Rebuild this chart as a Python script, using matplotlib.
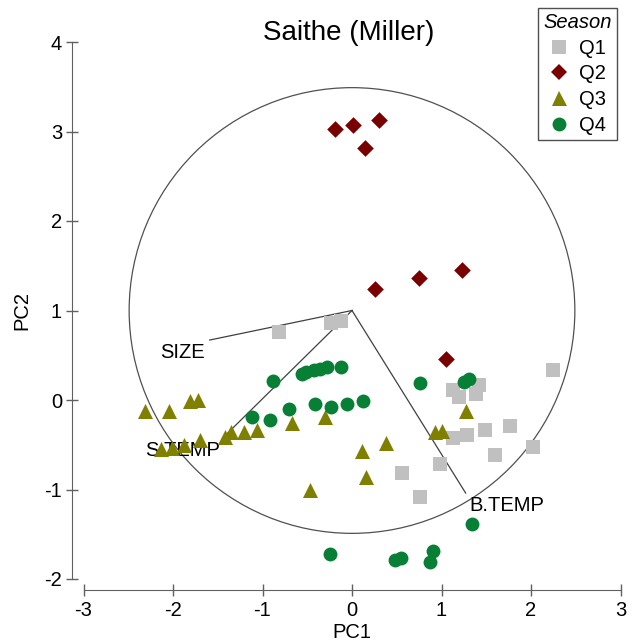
import numpy as np
import matplotlib
matplotlib.use('Agg')
import matplotlib.pyplot as plt
from matplotlib.patches import Circle
from matplotlib.lines import Line2D

plt.rcParams['font.family'] = ['Liberation Sans', 'DejaVu Sans']
plt.rcParams['axes.unicode_minus'] = False

# PCA scores by season
q1_x = [-0.82, -0.24, -0.12, 2.25, 1.42, 1.13, 1.19, 1.39, 1.77, 1.49, 1.28, 1.13, 2.02, 1.60, 0.98, 0.56, 0.76]
q1_y = [0.76, 0.86, 0.88, 0.34, 0.17, 0.11, 0.03, 0.07, -0.29, -0.34, -0.39, -0.42, -0.52, -0.61, -0.72, -0.82, -1.08]

q2_x = [-0.19, 0.01, 0.30, 0.15, 0.26, 0.75, 1.23, 1.05]
q2_y = [3.03, 3.07, 3.13, 2.82, 1.24, 1.36, 1.45, 0.46]

q3_x = [-2.31, -2.05, -1.81, -1.72, -2.13, -2.01, -1.88, -1.70, -1.42, -1.35, -1.21, -1.06,
        -0.67, -0.30, 0.11, 0.38, 0.16, -0.47, 1.27, 0.93, 1.00]
q3_y = [-0.12, -0.12, -0.01, 0.00, -0.55, -0.54, -0.50, -0.45, -0.41, -0.36, -0.36, -0.34,
        -0.26, -0.19, -0.57, -0.48, -0.86, -1.01, -0.12, -0.36, -0.35]

q4_x = [-0.88, -0.56, -0.51, -0.43, -0.36, -0.28, -0.12, -1.12, -0.92, -0.70, -0.41, -0.23, -0.06, 0.12,
        0.76, 1.25, 1.31, 1.34, -0.25, 0.48, 0.55, 0.90, 0.87]
q4_y = [0.21, 0.29, 0.31, 0.33, 0.35, 0.37, 0.37, -0.19, -0.22, -0.10, -0.04, -0.08, -0.05, -0.01,
        0.19, 0.20, 0.24, -1.39, -1.72, -1.79, -1.77, -1.69, -1.81]

# loadings (arrows start at the circle centre)
centre = (0.0, 1.0)
radius = 2.49
load_names = ['SIZE', 'S.TEMP', 'B.TEMP']
load_x = [-1.59, -1.44, 1.27]
load_y = [0.67, -0.42, -1.04]

W, H = 634, 644
fig = plt.figure(figsize=(W / 100, H / 100), dpi=100)
ax = fig.add_axes([83.5 / W, 65 / H, 537 / W, 537 / H])
ax.set_xlim(-3, 3)
ax.set_ylim(-2, 4)

axcol = '#606060'
for s in ['top', 'right']:
    ax.spines[s].set_visible(False)
for s in ['left', 'bottom']:
    ax.spines[s].set_position(('outward', 8))
    ax.spines[s].set_color(axcol)
ax.spines['left'].set_bounds(-2, 4)
ax.spines['bottom'].set_bounds(-3, 3)
ax.set_xticks(range(-3, 4))
ax.set_yticks(range(-2, 5))
ax.tick_params(direction='inout', length=9, width=1, color=axcol, labelsize=14.5, pad=3)

ax.add_patch(Circle(centre, radius, fill=False, edgecolor='#505050', linewidth=0.9))
for name, lx, ly in zip(load_names, load_x, load_y):
    ax.plot([centre[0], lx], [centre[1], ly], color='#404040', linewidth=0.9)

ax.text(-1.65, 0.53, 'SIZE', fontsize=14.5, ha='right', va='center')
ax.text(-1.48, -0.56, 'S.TEMP', fontsize=14.5, ha='right', va='center')
ax.text(1.31, -1.18, 'B.TEMP', fontsize=14.5, ha='left', va='center')

grey, red, olive, green = '#C0C0C0', '#7A0000', '#7F7F00', '#078035'
ax.scatter(q1_x, q1_y, marker='s', s=88, color=grey, linewidths=0, clip_on=False, zorder=3)
ax.scatter(q2_x, q2_y, marker='D', s=72, color=red, linewidths=0, clip_on=False, zorder=3)
ax.scatter(q3_x, q3_y, marker='^', s=117, color=olive, linewidths=0, clip_on=False, zorder=3)
ax.scatter(q4_x, q4_y, marker='o', s=100, color=green, linewidths=0, clip_on=False, zorder=3)

fig.text(349 / W, 1 - 33 / H, 'Saithe (Miller)', fontsize=20, ha='center', va='center')
fig.text(352 / W, 1 - 633 / H, 'PC1', fontsize=14.5, ha='center', va='center')
fig.text(22 / W, 1 - 310 / H, 'PC2', fontsize=14.5, ha='center', va='center', rotation=90)

handles = [
    Line2D([], [], linestyle='none', marker='s', markersize=9.4, color=grey, markeredgewidth=0),
    Line2D([], [], linestyle='none', marker='D', markersize=8.5, color=red, markeredgewidth=0),
    Line2D([], [], linestyle='none', marker='^', markersize=10.8, color=olive, markeredgewidth=0),
    Line2D([], [], linestyle='none', marker='o', markersize=10, color=green, markeredgewidth=0),
]
leg = fig.legend(handles, ['Q1', 'Q2', 'Q3', 'Q4'], title='Season', loc='upper right',
                 bbox_to_anchor=(617 / W, 1 - 8 / H), fontsize=14.5, frameon=True, fancybox=False,
                 edgecolor='#505050', framealpha=1, handlelength=1.0, handletextpad=0.5,
                 labelspacing=0.33, borderpad=0.25, borderaxespad=0,
                 title_fontproperties={'style': 'italic', 'size': 14.5})
leg.get_frame().set_linewidth(1)

fig.savefig('out.png', dpi=100)
